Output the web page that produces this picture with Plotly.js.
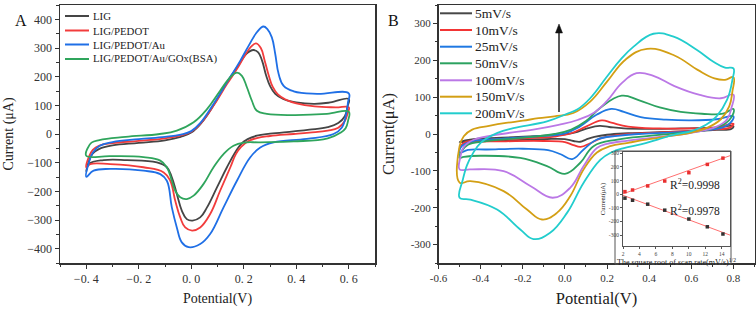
<!DOCTYPE html>
<html>
<head>
<meta charset="utf-8">
<script src="https://cdn.plot.ly/plotly-3.0.1.min.js"></script>
<style>html,body{margin:0;padding:0;background:#fff;}#chart{width:756px;height:310px;}</style>
</head>
<body>
<div id="chart"></div>
<script>
// ---------------- Panel A: CVs of modified electrodes ----------------
const namesA = ["LIG", "LIG/PEDOT", "LIG/PEDOT/Au", "LIG/PEDOT/Au/GOx(BSA)"];
const colorsA = ["#454545", "#f23c3c", "#1f6fe6", "#2fa55c"];

const potA_LIG = [-0.4,-0.39,-0.375,-0.35,-0.3,-0.2,-0.1,-0.04,0.0,0.04,0.085,0.136,0.18,0.21,0.237,0.255,0.27,0.285,0.3,0.32,0.35,0.4,0.47,0.53,0.6,
  0.595,0.585,0.56,0.52,0.45,0.39,0.3,0.25,0.215,0.19,0.17,0.136,0.098,0.06,0.034,0.005,-0.017,-0.036,-0.055,-0.074,-0.093,-0.131,-0.245,-0.334,-0.39,-0.4];
const curA_LIG = [-130,-95,-68,-52,-40,-31,-22,-10,5,40,100,180,240,280,293,285,255,205,168,140,122,110,105,110,122,
  95,62,38,24,15,9,1,-6,-18,-35,-60,-116,-186,-256,-291,-302,-297,-267,-209,-151,-116,-99,-91,-91,-105,-130];

const potA_PEDOT = [-0.4,-0.39,-0.375,-0.35,-0.3,-0.2,-0.1,-0.04,0.0,0.034,0.085,0.136,0.175,0.205,0.228,0.247,0.265,0.28,0.295,0.31,0.33,0.36,0.4,0.47,0.55,0.6,
  0.595,0.585,0.56,0.52,0.45,0.39,0.3,0.25,0.215,0.19,0.17,0.149,0.11,0.072,0.034,0.003,-0.023,-0.042,-0.061,-0.08,-0.105,-0.182,-0.309,-0.385,-0.4];
const curA_PEDOT = [-116,-80,-55,-40,-32,-24,-15,-5,8,35,99,174,228,275,305,316,300,255,205,165,138,120,107,96,93,93,
  70,45,22,12,5,0,-7,-14,-26,-45,-70,-116,-198,-279,-326,-337,-326,-291,-233,-163,-134,-116,-105,-105,-116];

const potA_Au = [-0.4,-0.39,-0.375,-0.35,-0.3,-0.2,-0.1,-0.04,0.0,0.034,0.085,0.136,0.187,0.22,0.25,0.275,0.29,0.307,0.32,0.333,0.352,0.39,0.479,0.6,
  0.597,0.59,0.574,0.542,0.44,0.314,0.263,0.225,0.174,0.123,0.072,0.034,-0.01,-0.036,-0.055,-0.074,-0.093,-0.118,-0.182,-0.309,-0.372,-0.4];
const curA_Au = [-149,-100,-65,-42,-28,-18,-10,-2,10,38,105,180,256,310,355,375,366,337,279,209,168,149,140,142,
  110,70,23,0,-17,-29,-47,-81,-163,-256,-349,-384,-395,-378,-326,-256,-163,-140,-128,-122,-128,-149];

const potA_GOx = [-0.4,-0.395,-0.38,-0.35,-0.25,-0.12,-0.055,0.009,0.06,0.11,0.149,0.174,0.193,0.212,0.231,0.25,0.288,0.39,0.517,0.6,
  0.597,0.588,0.57,0.52,0.39,0.263,0.2,0.161,0.123,0.085,0.047,0.009,-0.017,-0.042,-0.061,-0.074,-0.093,-0.118,-0.182,-0.309,-0.4];
const curA_GOx = [-76,-50,-30,-21,-10,0,12,41,87,151,198,214,203,163,116,81,70,66,70,78,
  45,20,5,-15,-26,-29,-30,-41,-70,-116,-174,-215,-227,-221,-198,-163,-116,-93,-81,-77,-76];

const tickA_x = [-0.4,-0.2,0.0,0.2,0.4,0.6];
const tickA_xText = ["\u22120. 4","\u22120. 2","0. 0","0. 2","0. 4","0. 6"];
const tickA_y = [-400,-300,-200,-100,0,100,200,300,400];

// ---------------- Panel B: CVs at different scan rates ----------------
const namesB = ["5mV/s","10mV/s","25mV/s","50mV/s","100mV/s","150mV/s","200mV/s"];
const colorsB = ["#474747","#f23535","#1f78e2","#2ca260","#bb78e6","#d39f14","#22cdcd"];

const potB_5 = [-0.5,-0.45,-0.3,-0.117,0.0,0.06,0.11,0.165,0.21,0.28,0.4,0.55,0.7,0.8,
  0.79,0.72,0.6,0.45,0.3,0.2,0.14,0.1,0.073,0.04,0.0,-0.1,-0.3,-0.45,-0.5];
const curB_5 = [-22,-15,-10,-5,-1,6,16,22,19,15,14,15,17,21,
  14,11,8,5,2,-2,-8,-15,-21,-19,-14,-14,-18,-21,-22];

const potB_10 = [-0.5,-0.48,-0.4,-0.2,-0.05,0.03,0.1,0.175,0.22,0.3,0.45,0.6,0.72,0.8,
  0.785,0.7,0.55,0.4,0.25,0.17,0.12,0.075,0.04,0.0,-0.1,-0.3,-0.45,-0.49,-0.5];
const curB_10 = [-40,-24,-17,-12,-7,2,20,37,31,20,15,15,18,28,
  18,12,7,3,-3,-12,-25,-35,-30,-22,-19,-20,-23,-30,-40];

const potB_25 = [-0.5,-0.49,-0.44,-0.3,-0.12,0.0,0.07,0.15,0.22,0.28,0.36,0.48,0.6,0.72,0.8,
  0.785,0.75,0.65,0.5,0.35,0.25,0.152,0.089,0.035,-0.02,-0.08,-0.2,-0.37,-0.46,-0.5];
const curB_25 = [-51,-33,-20,-13,-6,2,20,52,68,60,46,39,37,40,48,
  30,18,9,4,0,-5,-15,-42,-68,-55,-44,-40,-42,-43,-51];

const potB_50 = [-0.5,-0.49,-0.46,-0.38,-0.22,-0.05,0.03,0.1,0.17,0.27,0.35,0.45,0.55,0.65,0.75,0.8,
  0.79,0.76,0.68,0.55,0.4,0.25,0.136,0.073,0.0,-0.085,-0.212,-0.4,-0.48,-0.5];
const curB_50 = [-65,-47,-29,-20,-11,0,12,35,72,104,92,72,60,55,55,68,
  45,28,12,3,-5,-15,-33,-78,-108,-87,-65,-59,-62,-65];

const potB_100 = [-0.5,-0.497,-0.48,-0.43,-0.3,-0.15,-0.03,0.06,0.136,0.2,0.27,0.34,0.42,0.52,0.64,0.74,0.8,
  0.79,0.77,0.72,0.6,0.45,0.3,0.2,0.152,0.089,0.025,-0.058,-0.164,-0.291,-0.449,-0.5];
const curB_100 = [-96,-65,-35,-15,0,12,25,38,57,90,138,165,158,130,106,97,107,
  70,40,20,3,-8,-18,-27,-38,-87,-146,-173,-141,-101,-96,-96];

const potB_150 = [-0.5,-0.5,-0.48,-0.44,-0.36,-0.28,-0.2,-0.125,-0.05,0.04,0.12,0.2,0.29,0.39,0.52,0.63,0.71,0.76,0.8,
  0.795,0.78,0.74,0.68,0.6,0.5,0.4,0.3,0.215,0.152,0.089,0.025,-0.038,-0.109,-0.18,-0.291,-0.449,-0.5];
const curB_150 = [-132,-33,-6,12,22,30,36,43,48,57,88,142,203,231,213,174,151,147,154,
  115,75,40,18,4,-5,-14,-24,-33,-50,-96,-169,-214,-232,-205,-155,-128,-132];

const potB_200 = [-0.5,-0.485,-0.465,-0.44,-0.4,-0.32,-0.245,-0.085,0.01,0.06,0.12,0.2,0.263,0.326,0.42,0.516,0.627,0.705,0.76,0.8,
  0.795,0.77,0.72,0.67,0.6,0.52,0.44,0.36,0.28,0.22,0.168,0.089,0.01,-0.07,-0.149,-0.212,-0.322,-0.449,-0.5];
const curB_200 = [-173,-125,-85,-56,-24,3,16,34,55,67,97,156,201,237,272,264,228,196,180,178,
  147,93,48,25,8,-2,-15,-28,-38,-50,-70,-132,-214,-268,-285,-259,-205,-178,-173];

const tickB_x = [-0.6,-0.4,-0.2,0.0,0.2,0.4,0.6,0.8];
const tickB_xText = ["-0.6","-0.4","-0.2","0.0","0.2","0.4","0.6","0.8"];
const tickB_y = [-300,-200,-100,0,100,200,300];
const tickB_yText = ["-300","-200","-100","0","100","200","300"];

// ---------------- Inset: peak current vs sqrt(scan rate) ----------------
const sqrtRate = [2.236, 3.162, 5.0, 7.071, 10.0, 12.247, 14.142];
const peakAnodic = [19, 31, 61, 97, 158, 219, 265];
const peakCathodic = [-29, -44, -73, -117, -182, -239, -292];
const fitX = [2, 15];
const fitAnodic = [3, 283];
const fitCathodic = [-8, -300];
const r2Labels = ["R<sup>2</sup>=0.9998", "R<sup>2</sup>=0.9978"];
const tickIn_x = [2,4,6,8,10,12,14];
const tickIn_y = [-300,-200,-100,0,100,200,300];
const tickIn_yText = ["-300","-200","-100","0","100","200","300"];

// ---------------- build ----------------
const FONT = "Liberation Serif, 'Times New Roman', serif";
const W = 756, H = 310;
const px = v => v / W;
const py = v => 1 - v / H;

function cv(x, y, color, xa, ya) {
  return {type: "scatter", mode: "lines", x: x, y: y, xaxis: xa, yaxis: ya,
    line: {color: color, width: 1.8, shape: "spline", smoothing: 1.2},
    hoverinfo: "skip", showlegend: false};
}

const seriesA = [[potA_LIG, curA_LIG], [potA_PEDOT, curA_PEDOT], [potA_Au, curA_Au], [potA_GOx, curA_GOx]];
const seriesB = [[potB_5, curB_5], [potB_10, curB_10], [potB_25, curB_25], [potB_50, curB_50],
                 [potB_100, curB_100], [potB_150, curB_150], [potB_200, curB_200]];

const traces = [];
seriesA.forEach((s, i) => traces.push(cv(s[0], s[1], colorsA[i], "x", "y")));
seriesB.forEach((s, i) => traces.push(cv(s[0], s[1], colorsB[i], "x2", "y2")));

// inset fits and points
traces.push({type: "scatter", mode: "lines", x: fitX, y: fitAnodic, xaxis: "x3", yaxis: "y3",
  line: {color: "#ff6f6f", width: 1}, hoverinfo: "skip", showlegend: false});
traces.push({type: "scatter", mode: "lines", x: fitX, y: fitCathodic, xaxis: "x3", yaxis: "y3",
  line: {color: "#ff6f6f", width: 1}, hoverinfo: "skip", showlegend: false});
traces.push({type: "scatter", mode: "markers", x: sqrtRate, y: peakAnodic, xaxis: "x3", yaxis: "y3",
  marker: {symbol: "square", size: 3.5, color: "#e83030"}, hoverinfo: "skip", showlegend: false});
traces.push({type: "scatter", mode: "markers", x: sqrtRate, y: peakCathodic, xaxis: "x3", yaxis: "y3",
  marker: {symbol: "square", size: 3.5, color: "#333333"}, hoverinfo: "skip", showlegend: false});

const frame = {showline: true, mirror: true, linecolor: "#333", linewidth: 1.5,
  ticks: "outside", ticklen: 4, tickwidth: 1, tickcolor: "#333",
  zeroline: false, showgrid: false};

const shapes = [];
const annotations = [];

// custom legends
const legA_y = [16, 30.5, 44.5, 59];
namesA.forEach((n, i) => {
  shapes.push({type: "line", xref: "paper", yref: "paper", x0: px(65), x1: px(89), y0: py(legA_y[i]), y1: py(legA_y[i]),
    line: {color: colorsA[i], width: 2}});
  annotations.push({xref: "paper", yref: "paper", x: px(90.5), y: py(legA_y[i]), xanchor: "left", yanchor: "middle",
    text: n, showarrow: false, font: {family: FONT, size: 10.8, color: "#222"}});
});
const legB_y = [13.3, 30, 46.7, 63.3, 80.3, 96.7, 113.3];
namesB.forEach((n, i) => {
  shapes.push({type: "line", xref: "paper", yref: "paper", x0: px(440), x1: px(472), y0: py(legB_y[i]), y1: py(legB_y[i]),
    line: {color: colorsB[i], width: 2}});
  annotations.push({xref: "paper", yref: "paper", x: px(473), y: py(legB_y[i]), xanchor: "left", yanchor: "middle",
    text: n, showarrow: false, font: {family: FONT, size: 13.5, color: "#222"}});
});

// panel letters
annotations.push({xref: "paper", yref: "paper", x: px(13), y: py(10), text: "A", showarrow: false,
  font: {family: FONT, size: 16, color: "#111"}});
annotations.push({xref: "paper", yref: "paper", x: px(393), y: py(10), text: "B", showarrow: false,
  font: {family: FONT, size: 16, color: "#111"}});

// arrow (increasing scan rate): shaft + head drawn as shapes
shapes.push({type: "line", xref: "paper", yref: "paper", x0: px(559), x1: px(559), y0: py(112), y1: py(31),
  line: {color: "#111", width: 1.4}});
shapes.push({type: "path", xref: "paper", yref: "paper",
  path: "M " + px(559) + "," + py(24) + " L " + px(555.5) + "," + py(33) + " L " + px(562.5) + "," + py(33) + " Z",
  fillcolor: "#111", line: {color: "#111", width: 0.5}});

// R^2 labels
annotations.push({xref: "x3", yref: "y3", x: 10.8, y: 75, text: r2Labels[0], showarrow: false,
  font: {family: FONT, size: 11.5, color: "#222"}});
annotations.push({xref: "x3", yref: "y3", x: 10.8, y: -115, text: r2Labels[1], showarrow: false,
  font: {family: FONT, size: 11.5, color: "#222"}});

// inset outer box
shapes.push({type: "rect", xref: "paper", yref: "paper", x0: px(615), x1: px(731), y0: py(264), y1: py(151),
  line: {color: "#555", width: 1}, fillcolor: "rgba(0,0,0,0)", layer: "above"});

const layout = {
  width: W, height: H,
  margin: {l: 0, r: 0, t: 0, b: 0},
  paper_bgcolor: "#ffffff", plot_bgcolor: "#ffffff",
  showlegend: false,
  font: {family: FONT, color: "#222"},
  xaxis: Object.assign({}, frame, {
    domain: [px(60), px(375)], range: [-0.5, 0.7], anchor: "y",
    tickmode: "array", tickvals: tickA_x, ticktext: tickA_xText,
    tickfont: {family: FONT, size: 12, color: "#333"},
    minor: {tickmode: "linear", tick0: 0, dtick: 0.1, ticklen: 2.5, ticks: "outside", tickcolor: "#333"},
    title: {text: "Potential(V)", font: {family: FONT, size: 14, color: "#222"}, standoff: 8}
  }),
  yaxis: Object.assign({}, frame, {
    domain: [py(263), py(5)], range: [-450, 450], anchor: "x",
    tickmode: "array", tickvals: tickA_y,
    tickfont: {family: FONT, size: 12, color: "#333"},
    minor: {tickmode: "linear", tick0: 0, dtick: 50, ticklen: 2.5, ticks: "outside", tickcolor: "#333"},
    title: {text: "Current (μA)", font: {family: FONT, size: 14, color: "#222"}, standoff: 10}
  }),
  xaxis2: Object.assign({}, frame, {
    domain: [px(438.5), px(754.5)], range: [-0.6, 0.9], anchor: "y2",
    tickmode: "array", tickvals: tickB_x, ticktext: tickB_xText,
    tickfont: {family: FONT, size: 11, color: "#333"},
    minor: {tickmode: "linear", tick0: 0, dtick: 0.1, ticklen: 2.5, ticks: "outside", tickcolor: "#333"},
    title: {text: "Potential(V)", font: {family: FONT, size: 16.5, color: "#222"}, standoff: 9}
  }),
  yaxis2: Object.assign({}, frame, {
    domain: [py(263), py(5)], range: [-350, 350], anchor: "x2",
    tickmode: "array", tickvals: tickB_y, ticktext: tickB_yText,
    tickfont: {family: FONT, size: 11, color: "#333"},
    minor: {tickmode: "linear", tick0: 0, dtick: 50, ticklen: 2.5, ticks: "outside", tickcolor: "#333"},
    title: {text: "Current(μA)", font: {family: FONT, size: 16.5, color: "#222"}, standoff: 12}
  }),
  xaxis3: {
    domain: [px(623), px(730)], range: [2, 15], anchor: "y3",
    showline: true, mirror: true, linecolor: "#555", linewidth: 1, zeroline: false, showgrid: false,
    ticks: "outside", ticklen: 2, tickcolor: "#555",
    tickmode: "array", tickvals: tickIn_x,
    tickfont: {family: FONT, size: 5.5, color: "#444"},
    title: {text: "The square root of scan rate(mV/s)<sup>1/2</sup>", font: {family: FONT, size: 8, color: "#222"}, standoff: 2}
  },
  yaxis3: {
    domain: [py(246), py(152)], range: [-380, 310], anchor: "x3",
    showline: true, mirror: true, linecolor: "#555", linewidth: 1, zeroline: false, showgrid: false,
    ticks: "outside", ticklen: 2, tickcolor: "#555",
    tickmode: "array", tickvals: tickIn_y, ticktext: tickIn_yText,
    tickfont: {family: FONT, size: 5.5, color: "#444"},
    title: {text: "Current(μA)", font: {family: FONT, size: 6.5, color: "#222"}, standoff: 2}
  },
  shapes: shapes,
  annotations: annotations
};

Plotly.newPlot("chart", traces, layout, {staticPlot: true, displayModeBar: false});
</script>
</body>
</html>
